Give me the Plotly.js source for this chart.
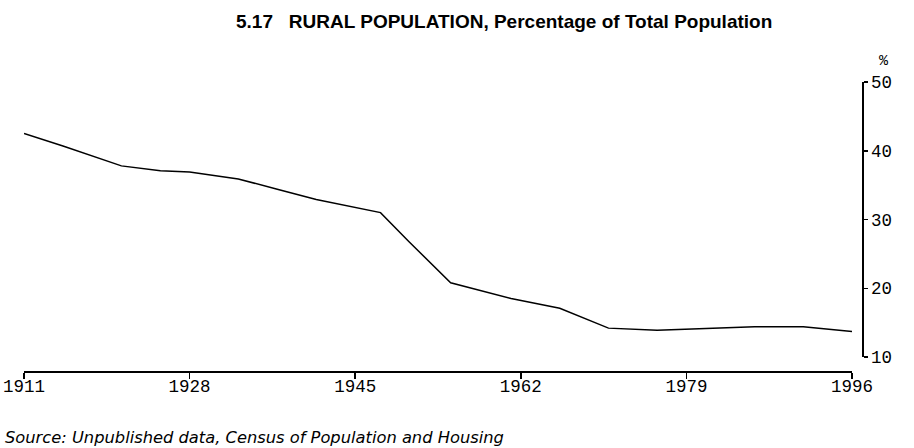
<!DOCTYPE html>
<html>
<head>
<meta charset="utf-8">
<script src="https://cdn.plot.ly/plotly-3.0.1.min.js"></script>
<style>
html,body{margin:0;padding:0;background:#fff;}
#chart{width:914px;height:448px;}
</style>
</head>
<body>
<div id="chart"></div>
<script>
// Data
const years = [1911, 1915, 1921, 1925, 1928, 1933, 1937, 1941, 1947.6, 1950.5, 1954.8, 1957, 1961, 1966, 1971, 1976, 1981, 1986, 1991, 1996];
const ruralPct = [42.5, 40.7, 37.8, 37.1, 36.9, 35.9, 34.4, 32.9, 31.0, 26.8, 20.8, 20.0, 18.5, 17.1, 14.2, 13.9, 14.2, 14.4, 14.4, 13.7];
const xTicks = [1911, 1928, 1945, 1962, 1979, 1996];
const yTicks = [10, 20, 30, 40, 50];
const titleText = "<b>5.17&nbsp;&nbsp;&nbsp;RURAL POPULATION, Percentage of Total Population</b>";
const sourceText = "<i>Source: Unpublished data, Census of Population and Housing</i>";

const tickFont = {family: "Liberation Mono, DejaVu Sans Mono, monospace", size: 17.5, color: "#000"};

const AX_Y = 862;          // pixel x of vertical axis
const X_END = 852;         // pixel x of 1996
const L = 24, R = 914 - AX_Y, T = 82, B = 448 - 371;
const paperW = 914 - L - R;
const paperH = 448 - T - B;

const trace = {
  x: years, y: ruralPct, type: "scatter", mode: "lines",
  line: {color: "#000", width: 1.5}, hoverinfo: "x+y"
};

const layout = {
  width: 914, height: 448,
  margin: {l: L, r: R, t: T, b: B, pad: 0},
  paper_bgcolor: "#fff", plot_bgcolor: "#fff",
  showlegend: false,
  xaxis: {
    range: [1911, 1996], domain: [0, (X_END - L) / paperW],
    anchor: "free", position: 0,
    tickvals: xTicks, ticktext: xTicks.map(String),
    ticks: "outside", ticklen: 6, tickwidth: 1.5, tickcolor: "#000",
    ticklabelstandoff: -8,
    showline: true, linecolor: "#000", linewidth: 1.5,
    showgrid: false, zeroline: false,
    tickfont: tickFont
  },
  yaxis: {
    range: [10, 50], domain: [(371 - 357) / paperH, 1],
    side: "right", anchor: "free", position: 1,
    tickvals: yTicks, ticktext: yTicks.map(String),
    ticks: "outside", ticklen: 4, tickwidth: 1.5, tickcolor: "#000",
    showline: true, linecolor: "#000", linewidth: 1.5,
    showgrid: false, zeroline: false,
    tickfont: tickFont
  },
  annotations: [
    {text: titleText, xref: "paper", yref: "paper", x: (504 - L) / paperW, y: 1 + (T - 22) / paperH,
     xanchor: "center", yanchor: "middle", showarrow: false,
     font: {family: "Liberation Sans, Arial, sans-serif", size: 19, color: "#000"}},
    {text: "%", xref: "paper", yref: "paper", x: (884 - L) / paperW, y: 1 + (T - 61) / paperH,
     xanchor: "center", yanchor: "middle", showarrow: false,
     font: {family: "Liberation Mono, DejaVu Sans Mono, monospace", size: 15, color: "#000"}},
    {text: sourceText, xref: "paper", yref: "paper", x: (3 - L) / paperW, y: -(437 - 371) / paperH,
     xanchor: "left", yanchor: "middle", showarrow: false,
     font: {family: "DejaVu Sans, Verdana, sans-serif", size: 16.3, color: "#000"}}
  ]
};

Plotly.newPlot("chart", [trace], layout, {displayModeBar: false, staticPlot: true});
</script>
</body>
</html>
